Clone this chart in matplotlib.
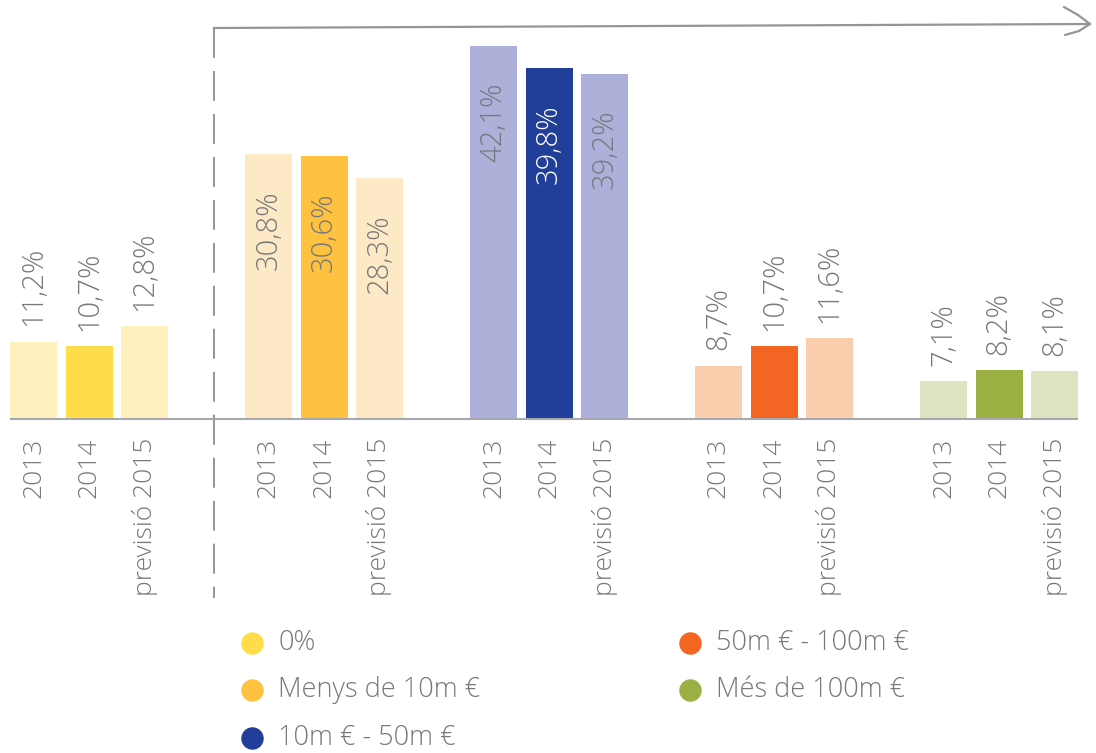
import numpy as np
import matplotlib
matplotlib.use("Agg")
import matplotlib.pyplot as plt

plt.rcParams['font.family'] = ['Open Sans', 'DejaVu Sans']

# data
years = ["2013", "2014", "previsió 2015"]
groups = ["0%", "Menys de 10m €", "10m € - 50m €", "50m € - 100m €", "Més de 100m €"]
values = [
    [11.2, 10.7, 12.8],
    [30.8, 30.6, 28.3],
    [42.1, 39.8, 39.2],
    [8.7, 10.7, 11.6],
    [7.1, 8.2, 8.1],
]
labels = [
    ["11,2%", "10,7%", "12,8%"],
    ["30,8%", "30,6%", "28,3%"],
    ["42,1%", "39,8%", "39,2%"],
    ["8,7%", "10,7%", "11,6%"],
    ["7,1%", "8,2%", "8,1%"],
]
light_cols = ["#FFF1BD", "#FDE9C5", "#ADB0D8", "#FACEAD", "#DDE4C1"]
dark_cols = ["#FFDD4A", "#FEC240", "#213F99", "#F26522", "#9BB042"]

gray = "#77787B"
line_gray = "#939598"

W, H = 1096, 753
fig = plt.figure(figsize=(W / 100, H / 100), dpi=100)

base_px = 419
px_per = 9.57
y0 = 3.12
ax = fig.add_axes([0, (H - base_px) / H, 1, base_px / H])
ax.set_xlim(0, W)
ax.set_ylim(y0, y0 + base_px / px_per)
ax.axis("off")

bw = 47
xs_all = []
for g, vals in enumerate(values):
    start = 33.5 + g * 225 + (10 if g > 0 else 0)
    xs = start + np.arange(3) * 55.5
    xs_all.extend(xs)
    cols = [light_cols[g], dark_cols[g], light_cols[g]]
    ax.bar(xs, vals, width=bw, color=cols, zorder=2)
    for i, (x, v) in enumerate(zip(xs, vals)):
        if v > 20:
            tc = "white" if (i == 1 and g == 2) else gray
            ax.annotate(labels[g][i], (x, v), xytext=(0, -26), textcoords="offset points",
                        rotation=90, ha="center", va="top", fontsize=21,
                        color=tc, fontweight="light")
        else:
            ax.annotate(labels[g][i], (x, v), xytext=(0, 11), textcoords="offset points",
                        rotation=90, ha="center", va="bottom", fontsize=21,
                        color=gray, fontweight="light")
        ax.annotate(years[i], (x, y0), xytext=(0, -13.5), textcoords="offset points",
                    rotation=90, ha="center", va="top", fontsize=19,
                    color=gray, fontweight="light", annotation_clip=False)

ax.hlines(y0, xs_all[0] - bw / 2, xs_all[-1] + bw / 2, color="#A7A9AC", lw=1.5,
          zorder=3, clip_on=False)

# overlay for decorations
ov = fig.add_axes([0, 0, 1, 1], zorder=-1)
ov.set_xlim(0, W)
ov.set_ylim(H, 0)
ov.axis("off")

ov.plot([214, 214], [28, 598], color=line_gray, lw=1.4, dashes=(15.4, 6.7))
ov.plot([214, 1090], [28, 24], color=line_gray, lw=1.6)
ov.plot([1064, 1078, 1090], [7, 15, 24], color=line_gray, lw=1.6, solid_capstyle="round")
ov.plot([1065, 1079, 1090], [35, 31, 24], color=line_gray, lw=1.6, solid_capstyle="round")

# legend
leg_pos = [(252, 643), (252, 690), (252, 738), (690, 643), (690, 690)]
for (lx, ly), name, c in zip(leg_pos, groups, dark_cols):
    ov.scatter([lx], [ly], s=230, color=c, zorder=3)
    ov.text(lx + 26, ly, name, fontsize=19.5, color=gray, va="center", ha="left",
            fontweight="light")

fig.savefig("out.png", dpi=100)
